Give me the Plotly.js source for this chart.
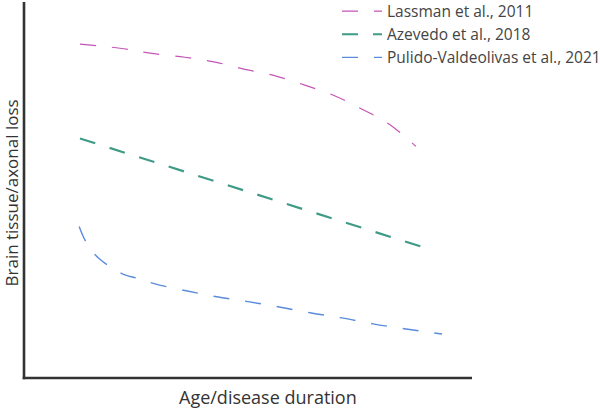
<!DOCTYPE html>
<html>
<head>
<meta charset="utf-8">
<script src="https://cdn.plot.ly/plotly-3.0.1.min.js"></script>
<style>html,body{margin:0;padding:0;background:#fff}#chart{width:600px;height:411px}</style>
</head>
<body>
<div id="chart"></div>
<script>
// Data (arbitrary units; x: 0-100, y: 0-100)
var seriesNames = ["Lassman et al., 2011", "Azevedo et al., 2018", "Pulido-Valdeolivas et al., 2021"];

var lassmanX = [13.3, 22.8, 29.9, 38.2, 45.4, 52.5, 59.9, 66.7, 73.9, 80.3, 86.5, 93.1];
var lassmanY = [88.8, 87.7, 86.4, 85.3, 84.0, 82.1, 80.3, 77.9, 75.0, 71.5, 67.7, 61.6];

var azevedoX = [13.3, 53.7, 94.5];
var azevedoY = [63.7, 49.4, 34.9];

var pulidoX = [13.1, 14.3, 15.9, 18.1, 20.9, 23.8, 27.3, 30.9, 38.5, 45.8, 53.2, 60.6, 68.2, 75.5, 82.9, 90.3, 99.3];
var pulidoY = [40.3, 37.1, 34.1, 31.5, 29.3, 27.5, 26.4, 25.1, 23.2, 21.6, 20.3, 18.9, 17.3, 16.0, 14.4, 13.1, 11.7];

var xTitle = "Age/disease duration";
var yTitle = "Brain tissue/axonal loss";

var traces = [
  {x: lassmanX, y: lassmanY, name: seriesNames[0], type: "scatter", mode: "lines",
   line: {color: "#c555b5", width: 1.2, dash: "16px,16px", shape: "spline"}},
  {x: azevedoX, y: azevedoY, name: seriesNames[1], type: "scatter", mode: "lines",
   line: {color: "#3f9a86", width: 2.2, dash: "16px,15px"}},
  {x: pulidoX, y: pulidoY, name: seriesNames[2], type: "scatter", mode: "lines",
   line: {color: "#5b8bdc", width: 1.4, dash: "16px,16px", shape: "spline"}}
];

var L = 24, R = 445, T = 2, B = 378, W = 600, H = 411;
var pw = R - L, ph = B - T;

var layout = {
  width: W, height: H,
  margin: {l: L, r: W - R, t: T, b: H - B, pad: 0, autoexpand: false},
  paper_bgcolor: "#fff", plot_bgcolor: "#fff",
  font: {family: "Open Sans", color: "#444", size: 15},
  showlegend: true,
  legend: {x: (337 - L) / pw, xanchor: "left", y: 1 + 7.5 / ph, yanchor: "top", itemwidth: 40,
           bgcolor: "rgba(0,0,0,0)", font: {family: "Open Sans", size: 15.5, color: "#444"}},
  xaxis: {range: [0, 100], showgrid: false, zeroline: false, showline: false,
          showticklabels: false, ticks: "", fixedrange: true},
  yaxis: {range: [0, 100], showgrid: false, zeroline: false, showline: false,
          showticklabels: false, ticks: "", fixedrange: true},
  shapes: [
    {type: "line", xref: "paper", yref: "paper", x0: 0, x1: 0, y0: -0.003, y1: 1,
     line: {color: "#333", width: 2.6}},
    {type: "line", xref: "paper", yref: "paper", x0: -0.003, x1: (472 - L) / pw, y0: 0, y1: 0,
     line: {color: "#333", width: 2.6}}
  ],
  annotations: [
    {text: xTitle, xref: "paper", yref: "paper", x: (268 - L) / pw, y: -(397 - B) / ph,
     xanchor: "center", yanchor: "middle", showarrow: false,
     font: {family: "Open Sans", size: 18, color: "#333"}},
    {text: yTitle, xref: "paper", yref: "paper", x: -(L - 10.5) / pw, y: 1 - (193 - T) / ph, textangle: -90,
     xanchor: "center", yanchor: "middle", showarrow: false,
     font: {family: "Open Sans", size: 17, color: "#333"}}
  ]
};

Plotly.newPlot("chart", traces, layout, {displayModeBar: false, staticPlot: true});
</script>
</body>
</html>
